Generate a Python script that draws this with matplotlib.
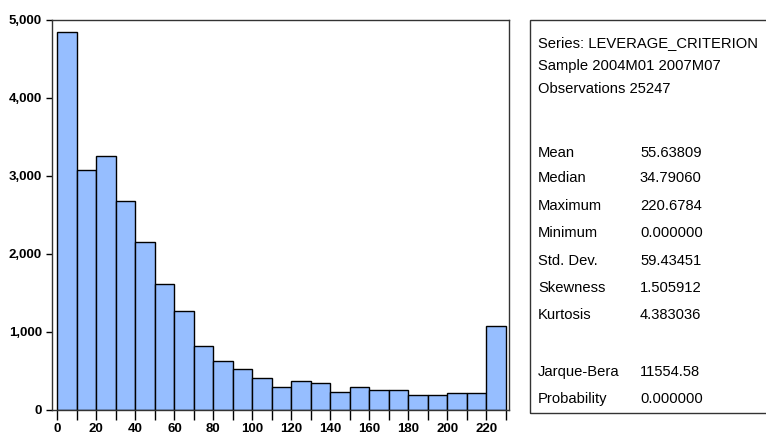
import numpy as np
import matplotlib.pyplot as plt
from matplotlib.patches import Rectangle

# Bin edges (width 10) and counts
bin_edges = np.arange(0, 240, 10)
counts = [4846, 3074, 3254, 2671, 2145, 1610, 1267, 809, 621, 514,
          402, 291, 364, 334, 227, 295, 253, 253, 180, 180, 210, 210, 1066]

header_lines = ['Series: LEVERAGE_CRITERION',
                'Sample 2004M01 2007M07',
                'Observations 25247']
stat_names = ['Mean', 'Median', 'Maximum', 'Minimum', 'Std. Dev.',
              'Skewness', 'Kurtosis']
stat_values = ['55.63809', '34.79060', '220.6784', '0.000000', '59.43451',
               '1.505912', '4.383036']
test_names = ['Jarque-Bera', 'Probability']
test_values = ['11554.58', '0.000000']

W, H = 766, 438
fig = plt.figure(figsize=(W / 100, H / 100), dpi=100)
ax = fig.add_axes([51.7 / W, 1 - 409.5 / H, (509.3 - 51.7) / W, (409.5 - 20) / H])

ax.bar(bin_edges[:-1], counts, width=10, align='edge',
       color='#96BEFF', edgecolor='black', linewidth=1.0)

ax.set_xlim(-2.9, 231.7)
ax.set_ylim(0, 5000)
ax.set_yticks(np.arange(0, 5001, 1000))
ax.set_yticklabels(['0', '1,000', '2,000', '3,000', '4,000', '5,000'])
ax.set_xticks(np.arange(0, 221, 20))
ax.set_xticks(np.arange(10, 231, 20), minor=True)
ax.tick_params(axis='y', direction='out', length=4, width=1, pad=3)
ax.tick_params(axis='x', which='both', direction='out', length=7, width=1, pad=3)
for lab in ax.get_xticklabels() + ax.get_yticklabels():
    lab.set_fontweight('bold')
    lab.set_fontsize(9.5)
    lab.set_family('Liberation Sans')
for s in ax.spines.values():
    s.set_color('#333333')
    s.set_linewidth(1.0)

# Statistics box
box = Rectangle((530 / W, 1 - 413 / H), 260 / W, (413 - 20) / H,
                transform=fig.transFigure, fill=False, edgecolor='#333333',
                linewidth=1.0, clip_on=False)
fig.patches.append(box)

fam = 'Liberation Sans'
fs = 10.6
x_name = 538 / W
x_val = 640 / W
header_y = [43, 66, 89]
stat_y = [153, 178, 206, 233, 261, 288, 315]
test_y = [372, 399]
for t, y in zip(header_lines, header_y):
    fig.text(x_name, 1 - y / H, t, fontsize=fs, family=fam, va='center')
for n, v, y in zip(stat_names, stat_values, stat_y):
    fig.text(x_name, 1 - y / H, n, fontsize=fs, family=fam, va='center')
    fig.text(x_val, 1 - y / H, v, fontsize=fs, family=fam, va='center')
for n, v, y in zip(test_names, test_values, test_y):
    fig.text(x_name, 1 - y / H, n, fontsize=fs, family=fam, va='center')
    fig.text(x_val, 1 - y / H, v, fontsize=fs, family=fam, va='center')

fig.savefig('out.png', dpi=100)
